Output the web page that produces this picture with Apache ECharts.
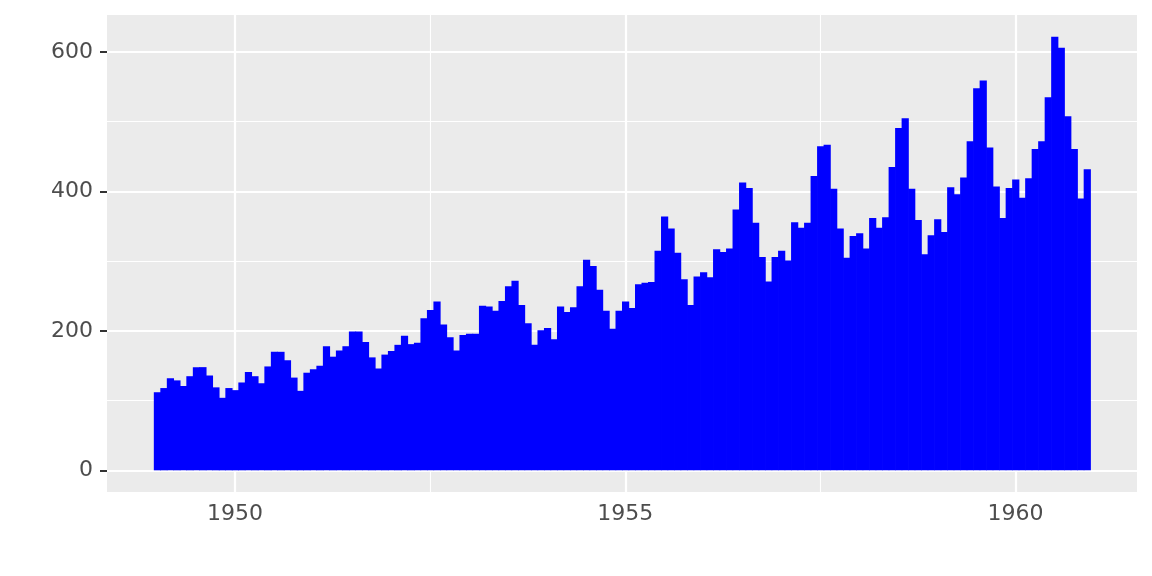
<!DOCTYPE html>
<html>
<head>
<meta charset="utf-8">
<script src="https://cdn.jsdelivr.net/npm/echarts@6/dist/echarts.min.js"></script>
<style>html,body{margin:0;padding:0;background:#fff}#c{width:1152px;height:576px}</style>
</head>
<body>
<div id="c"></div>
<script>
// AirPassengers monthly totals, 1949-1960
const years = [1949,1950,1951,1952,1953,1954,1955,1956,1957,1958,1959,1960];
const passengers = [
  [112,118,132,129,121,135,148,148,136,119,104,118],
  [115,126,141,135,125,149,170,170,158,133,114,140],
  [145,150,178,163,172,178,199,199,184,162,146,166],
  [171,180,193,181,183,218,230,242,209,191,172,194],
  [196,196,236,235,229,243,264,272,237,211,180,201],
  [204,188,235,227,234,264,302,293,259,229,203,229],
  [242,233,267,269,270,315,364,347,312,274,237,278],
  [284,277,317,313,318,374,413,405,355,306,271,306],
  [315,301,356,348,355,422,465,467,404,347,305,336],
  [340,318,362,348,363,435,491,505,404,359,310,337],
  [360,342,406,396,420,472,548,559,463,407,362,405],
  [417,391,419,461,472,535,622,606,508,461,390,432]
];
const xTicks = [1950, 1955, 1960];
const xMinor = [1952.5, 1957.5];
const yTicks = [0, 200, 400, 600];
const yMinor = [100, 300, 500];

const step = 1/12;
const data = [];
years.forEach((yr, i) => passengers[i].forEach((v, m) => data.push([yr + m*step, v])));

// ggplot-style expansion
const xlo = data[0][0] - step/2, xhi = data[data.length-1][0] + step/2;
const xpad = 0.6;
const ymaxData = Math.max(...data.map(d => d[1]));
const ypad = 0.05 * ymaxData;

const font = 'DejaVu Sans';
const chart = echarts.init(document.getElementById('c'));
chart.setOption({
  animation: false,
  grid: { left: 107, right: 15, top: 15, bottom: 84, show: true, backgroundColor: '#EBEBEB', borderWidth: 0 },
  xAxis: {
    type: 'value', min: xlo - xpad, max: xhi + xpad,
    axisLine: { show: false },
    splitLine: { show: false },
    axisTick: { show: true, customValues: xTicks, length: 7, lineStyle: { color: '#333333', width: 2 } },
    axisLabel: { customValues: xTicks, formatter: v => String(v), fontFamily: font, fontSize: 22, color: '#4D4D4D', margin: 11 }
  },
  yAxis: {
    type: 'value', min: -ypad, max: ymaxData + ypad,
    axisLine: { show: false },
    splitLine: { show: false },
    axisTick: { show: true, customValues: yTicks, length: 7, lineStyle: { color: '#333333', width: 2 } },
    axisLabel: { customValues: yTicks, formatter: v => String(v), fontFamily: font, fontSize: 22, color: '#4D4D4D', margin: 14 }
  },
  series: [
    {
      type: 'line', data: [], z: 1, silent: true,
      markLine: {
        silent: true, symbol: 'none', label: { show: false }, animation: false, z: 1,
        data: [
          ...xMinor.map(v => ({ xAxis: v, lineStyle: { color: '#FFFFFF', width: 1.1, type: 'solid' } })),
          ...yMinor.map(v => ({ yAxis: v, lineStyle: { color: '#FFFFFF', width: 1.1, type: 'solid' } })),
          ...xTicks.map(v => ({ xAxis: v, lineStyle: { color: '#FFFFFF', width: 2.2, type: 'solid' } })),
          ...yTicks.map(v => ({ yAxis: v, lineStyle: { color: '#FFFFFF', width: 2.2, type: 'solid' } }))
        ]
      }
    },
    {
      type: 'custom', z: 10, data: data,
      renderItem: function (params, api) {
        const x = api.value(0), y = api.value(1);
        const p0 = api.coord([x - step/2, 0]);
        const p1 = api.coord([x + step/2, y]);
        return {
          type: 'rect',
          shape: { x: p0[0], y: p1[1], width: p1[0] - p0[0] + 0.7, height: p0[1] - p1[1] },
          style: { fill: '#0000FF' }
        };
      }
    }
  ]
});
</script>
</body>
</html>
